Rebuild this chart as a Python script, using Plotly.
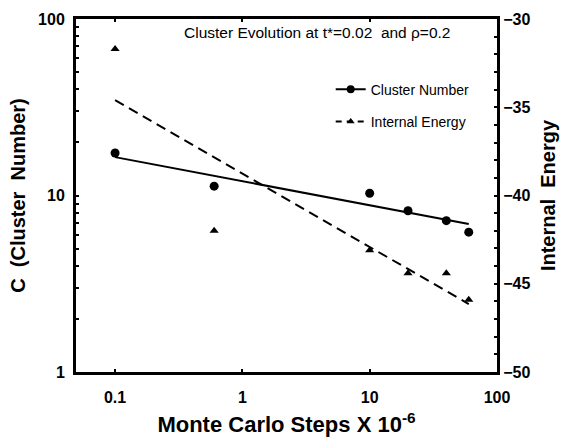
import plotly.graph_objects as go

# Data
steps = [0.1, 0.6, 10, 20, 40, 60]
cluster = [17.4, 11.3, 10.3, 8.2, 7.2, 6.2]
energy = [-31.7, -42.0, -43.1, -44.4, -44.4, -45.9]
fit_steps = [0.1, 60]
fit_cluster = [16.5, 6.9]
fit_energy = [-34.6, -46.15]

x_tickvals = [0.1, 1, 10, 100]
x_ticktext = ["0.1", "1", "10", "100"]
y_tickvals = [1, 10, 100]
y_ticktext = ["1", "10", "100"]
y_minor = [2, 3, 4, 5, 6, 7, 8, 9, 20, 30, 40, 50, 60, 70, 80, 90]

FONT = "Liberation Sans, Arial, Helvetica, sans-serif"
DASH = "10px,6px"

fig = go.Figure()
fig.add_trace(go.Scatter(x=fit_steps, y=fit_cluster, mode="lines",
                         line=dict(color="black", width=2), showlegend=False))
fig.add_trace(go.Scatter(x=steps, y=cluster, mode="markers",
                         marker=dict(symbol="circle", size=9, color="black"), showlegend=False))
fig.add_trace(go.Scatter(x=fit_steps, y=fit_energy, mode="lines", yaxis="y2",
                         line=dict(color="black", width=2, dash=DASH), showlegend=False))
fig.add_trace(go.Scatter(x=steps, y=energy, mode="markers", yaxis="y2",
                         marker=dict(symbol="triangle-up", size=8, color="black"), showlegend=False))
# legend entries
fig.add_trace(go.Scatter(x=[None], y=[None], mode="lines+markers", name="Cluster Number",
                         legendgroup="a",
                         line=dict(color="black", width=2),
                         marker=dict(symbol="circle", size=8, color="black")))
fig.add_trace(go.Scatter(x=[None], y=[None], mode="lines+markers", name="Internal Energy",
                         legendgroup="b", yaxis="y2",
                         line=dict(color="black", width=2, dash="6px,5px"),
                         marker=dict(symbol="triangle-up", size=7, color="black")))

fig.update_layout(
    width=567, height=445,
    margin=dict(l=76, r=70, t=11, b=70),
    paper_bgcolor="white", plot_bgcolor="white",
    font=dict(family=FONT, color="black"),
    showlegend=True,
    legend=dict(x=0.605, y=0.845, xanchor="left", yanchor="top",
                font=dict(size=14, family=FONT), bgcolor="rgba(0,0,0,0)",
                traceorder="grouped", tracegroupgap=11),
    xaxis=dict(type="log", range=[-1.307, 2.0], tickmode="array",
               tickvals=x_tickvals, ticktext=x_ticktext,
               ticks="inside", ticklen=3, tickwidth=2, tickcolor="black",
               showline=True, linewidth=3, linecolor="black", mirror="ticks",
               showgrid=False, zeroline=False, ticklabelstandoff=9,
               tickfont=dict(size=16, family=FONT, weight="bold"),
               title=dict(text="Monte Carlo Steps X 10<sup>-6</sup>",
                          font=dict(size=22, family=FONT, weight="bold"), standoff=12)),
    yaxis=dict(type="log", range=[0, 2], tickmode="array",
               tickvals=y_tickvals, ticktext=y_ticktext,
               ticks="inside", ticklen=3, tickwidth=2, tickcolor="black",
               minor=dict(tickmode="array", tickvals=y_minor, ticks="inside",
                          ticklen=3, tickwidth=2, tickcolor="black", showgrid=False),
               showline=True, linewidth=3, linecolor="black",
               showgrid=False, zeroline=False, ticklabelstandoff=5,
               tickfont=dict(size=16, family=FONT, weight="bold"),
               title=dict(text="C\u00a0\u00a0(Cluster\u00a0\u00a0Number)",
                          font=dict(size=20, family=FONT, weight="bold"), standoff=8)),
    yaxis2=dict(overlaying="y", side="right", range=[-50, -30],
                tickmode="linear", tick0=-50, dtick=5,
                ticks="inside", ticklen=3, tickwidth=2, tickcolor="black",
                minor=dict(dtick=1, ticks="inside", ticklen=3, tickwidth=2,
                           tickcolor="black", showgrid=False),
                showline=True, linewidth=3, linecolor="black",
                showgrid=False, zeroline=False, ticklabelstandoff=0,
                tickfont=dict(size=16, family=FONT, weight="bold"),
                title=dict(text="Internal\u00a0\u00a0Energy",
                           font=dict(size=20, family=FONT, weight="bold"), standoff=12)),
    annotations=[dict(text="Cluster Evolution at t*=0.02\u00a0\u00a0and \u03c1=0.2",
                      xref="paper", yref="paper", x=0.252, y=0.9615,
                      xanchor="left", yanchor="middle", showarrow=False,
                      font=dict(size=15.5, family=FONT, color="black"))],
)

fig.write_html("out.html")
